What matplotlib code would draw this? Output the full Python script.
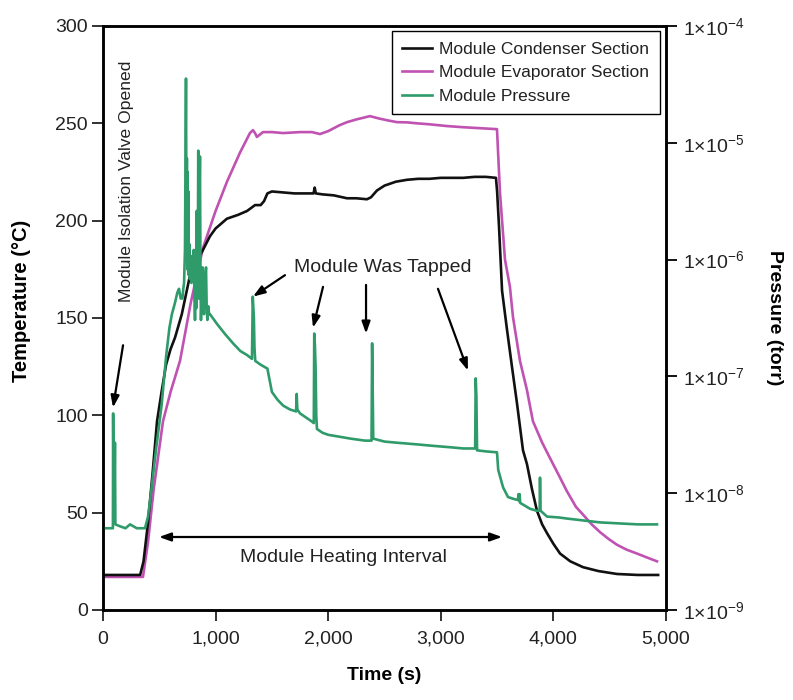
import numpy as np
import matplotlib
matplotlib.use("Agg")
import matplotlib.pyplot as plt
from matplotlib.ticker import FixedLocator, NullLocator, FuncFormatter

plt.rcParams['font.family'] = ['Liberation Sans', 'DejaVu Sans']
plt.rcParams['mathtext.fontset'] = 'custom'
plt.rcParams['mathtext.rm'] = 'Liberation Sans'
plt.rcParams['mathtext.it'] = 'Liberation Sans:italic'
plt.rcParams['mathtext.bf'] = 'Liberation Sans:bold'

# ---- Condenser section temperature (deg C) vs time (s)
cond_t = [0, 100, 200, 330, 360, 400, 440, 480, 520, 560, 600, 640, 700, 773, 830,
          888, 950, 1000, 1100, 1200, 1280, 1350, 1400, 1430, 1460, 1500, 1600,
          1700, 1800, 1870, 1880, 1890, 1950, 2050, 2167, 2250, 2344, 2380, 2433,
          2500, 2600, 2700, 2800, 2900, 3000, 3108, 3200, 3300, 3400, 3490, 3500,
          3517, 3544, 3588, 3632, 3677, 3730, 3765, 3810, 3854, 3900, 3943, 4000,
          4059, 4150, 4263, 4400, 4565, 4750, 4930]
cond_T = [18, 18, 18, 18, 25, 45, 70, 97, 112, 126, 134, 140, 152, 172, 179,
          185, 192, 196, 201, 203, 205, 208, 208, 210, 214, 215, 214.5,
          214, 214, 214, 217, 214, 213.5, 213, 211.5, 211.5, 211, 212, 215.5,
          218, 220, 221, 221.5, 221.5, 222, 222, 222, 222.5, 222.5, 222, 215,
          197, 164, 144, 125, 106, 82, 75, 62, 51, 44, 39.5, 34,
          29, 25, 22, 20, 18.5, 18, 18]

# ---- Evaporator section temperature (deg C) vs time (s)
evap_t = [0, 100, 200, 355, 400, 450, 533, 600, 684, 780, 888, 1000, 1101, 1217,
          1305, 1332, 1350, 1367, 1421, 1500, 1600, 1750, 1856, 1927, 2000, 2100,
          2167, 2250, 2371, 2450, 2530, 2611, 2700, 2789, 2900, 3055, 3200, 3350,
          3499, 3526, 3570, 3614, 3641, 3703, 3765, 3818, 3900, 3970, 4050, 4120,
          4200, 4263, 4340, 4414, 4490, 4565, 4650, 4742, 4830, 4920]
evap_T = [17, 17, 17, 17, 35, 62, 97, 112, 128, 158, 186, 205, 220, 235,
          245, 246.5, 245, 243, 245.5, 245.5, 245, 245.5, 245.5, 244.5, 246, 249,
          250.6, 252, 253.7, 252.5, 251.5, 250.6, 250.5, 250, 249.5, 248.6, 248, 247.5,
          247, 214, 180, 166, 150.5, 128, 113, 97, 86, 78, 69, 61,
          53, 49, 44, 40, 36.5, 33.5, 31, 29, 27, 25]

# ---- Module pressure, log10(torr) vs time (s)
pres_t = [0, 40, 80, 88, 90, 94, 102, 106, 110, 150, 200, 240, 300, 373,
          400, 430, 470, 520, 560, 590, 612, 640, 660, 675, 690, 705, 713, 720,
          728, 733, 737, 741, 745, 749, 752, 755, 758, 762, 767, 772, 778, 785,
          792, 800, 806, 812, 817, 823, 828, 832, 836, 842, 846, 850, 855, 861,
          866, 870, 878, 885, 891, 897, 905, 915, 921, 927, 935, 942, 950,
          1012, 1080, 1155, 1220, 1279, 1323, 1330, 1335, 1340, 1345, 1352,
          1400, 1460, 1480, 1500, 1550, 1600, 1660, 1715, 1720, 1726, 1750,
          1800, 1850, 1872, 1876, 1882, 1888, 1894, 1900, 1950, 2000, 2105,
          2200, 2327, 2385, 2390, 2395, 2400, 2500, 2600, 2700, 2800, 2900,
          3000, 3100, 3200, 3305, 3310, 3316, 3322, 3400, 3499, 3510, 3553,
          3597, 3650, 3685, 3690, 3695, 3700, 3705, 3792, 3850, 3878, 3881,
          3886, 3943, 4050, 4120, 4263, 4414, 4565, 4750, 4920]
pres_log10 = [-8.30, -8.30, -8.30, -8.30, -7.317, -8.0, -8.0, -7.567, -8.267, -8.283,
              -8.30, -8.267, -8.30, -8.30,
              -8.20, -7.967, -7.633, -7.25, -6.833, -6.583, -6.467, -6.367, -6.283,
              -6.25, -6.333, -6.333, -6.25, -6.20,
              -5.917, -5.167, -4.45, -5.667, -5.133, -6.083, -5.25, -6.0, -5.417,
              -6.133, -5.867, -6.167, -5.967, -6.20,
              -6.033, -6.167, -5.917, -6.333, -6.517, -6.20, -6.417, -5.583, -6.333,
              -6.083, -5.067, -6.333, -5.667, -5.117,
              -6.167, -6.517, -6.25, -6.067, -6.417, -6.467, -6.167, -6.067, -6.417,
              -6.517, -6.40, -6.467, -6.467,
              -6.55, -6.633, -6.717, -6.783, -6.817, -6.85, -6.317, -6.417, -6.50,
              -6.75, -6.867,
              -6.90, -6.933, -7.033, -7.133, -7.20, -7.25, -7.283, -7.30, -7.15,
              -7.283, -7.317,
              -7.35, -7.383, -7.40, -6.633, -6.733, -6.917, -7.333, -7.45, -7.483,
              -7.50, -7.517,
              -7.533, -7.55, -7.55, -6.717, -7.083, -7.533, -7.558, -7.567, -7.575,
              -7.583, -7.592,
              -7.60, -7.608, -7.617, -7.617, -7.017, -7.167, -7.633, -7.642, -7.65,
              -7.80, -7.95,
              -8.033, -8.05, -8.058, -8.008, -8.067, -8.008, -8.083, -8.133, -8.15,
              -8.15, -7.867,
              -8.15, -8.20, -8.208, -8.217, -8.233, -8.25, -8.258, -8.267, -8.267]

x_ticks = [0, 1000, 2000, 3000, 4000, 5000]
temp_ticks = [0, 50, 100, 150, 200, 250, 300]
pres_exponents = [-9, -8, -7, -6, -5, -4]

BLACK = '#111111'
MAGENTA = '#c052b2'
GREEN = '#2f9b6b'

fig = plt.figure(figsize=(7.93, 7.0), dpi=100)
ax = fig.add_axes([103 / 793, 90 / 700, 563 / 793, 584 / 700])
ax2 = ax.twinx()

l_evap, = ax.plot(evap_t, evap_T, color=MAGENTA, lw=1.9, label='Module Evaporator Section')
l_cond, = ax.plot(cond_t, cond_T, color=BLACK, lw=1.9, label='Module Condenser Section')
l_pres, = ax2.plot(pres_t, 10.0 ** np.array(pres_log10), color=GREEN, lw=1.9,
                   label='Module Pressure')

ax.set_xlim(0, 5000)
ax.set_ylim(0, 300)
ax2.set_yscale('log')
ax2.set_ylim(1e-9, 1e-4)

ax.xaxis.set_major_locator(FixedLocator(x_ticks))
ax.xaxis.set_major_formatter(FuncFormatter(lambda v, p: f'{v:,.0f}'))
ax.yaxis.set_major_locator(FixedLocator(temp_ticks))
ax2.yaxis.set_major_locator(FixedLocator([10.0 ** e for e in pres_exponents]))
ax2.yaxis.set_minor_locator(NullLocator())
ax2.set_yticklabels([rf'$1{{\times}}10^{{{e}}}$' for e in pres_exponents])

for a in (ax, ax2):
    for s in a.spines.values():
        s.set_linewidth(1.8)
ax.tick_params(axis='both', direction='out', length=8, width=1.3, labelsize=14,
               colors='#222222', labelcolor='#222222')
ax.tick_params(axis='x', pad=7)
ax.tick_params(axis='y', pad=3)
ax2.tick_params(axis='y', direction='out', length=8, width=1.3, labelsize=14,
                labelcolor='#222222', pad=4)

ax.set_xlabel('Time (s)', fontsize=14, fontweight='bold', labelpad=14)
ax.set_ylabel('Temperature (°C)', fontsize=14.5, fontweight='bold', labelpad=10)
ax.yaxis.set_label_coords(-0.128, 0.53)
ax2.set_ylabel('Pressure (torr)', fontsize=14, fontweight='bold', rotation=270,
               labelpad=28)

arrow_kw = dict(arrowstyle='-|>,head_length=0.7,head_width=0.25', color='black',
                lw=1.6, shrinkA=0, shrinkB=0)

ax.text(213, 220, 'Module Isolation Valve Opened', rotation=90, fontsize=12.6,
        ha='center', va='center', color='#222222')
ax.annotate('', xy=(89, 104), xytext=(178, 136), arrowprops=arrow_kw)

ax.text(2487, 176, 'Module Was Tapped', fontsize=14, ha='center', va='center',
        color='#222222')
tap_arrows = [((1332, 161), (1616, 172)), ((1865, 145), (1954, 166)),
              ((2336, 142), (2336, 167)), ((3241, 123), (2975, 165))]
for tip, tail in tap_arrows:
    ax.annotate('', xy=tip, xytext=tail, arrowprops=arrow_kw)

ax.annotate('', xy=(497, 37.5), xytext=(3544, 37.5),
            arrowprops=dict(arrowstyle='<|-|>,head_length=0.7,head_width=0.25',
                            color='black', lw=1.6, shrinkA=0, shrinkB=0))
ax.text(2131, 27, 'Module Heating Interval', fontsize=14, ha='center', va='center',
        color='#222222')

leg = ax2.legend(handles=[l_cond, l_evap, l_pres], loc='upper right',
                 bbox_to_anchor=(0.989, 0.991), fontsize=12.5, frameon=True,
                 fancybox=False, framealpha=1, edgecolor='black',
                 handlelength=1.7, handletextpad=0.45, labelspacing=0.48,
                 borderpad=0.6, borderaxespad=0)
leg.get_frame().set_linewidth(1.0)
for t in leg.get_texts():
    t.set_color('#222222')

fig.savefig('out.png', dpi=100)
